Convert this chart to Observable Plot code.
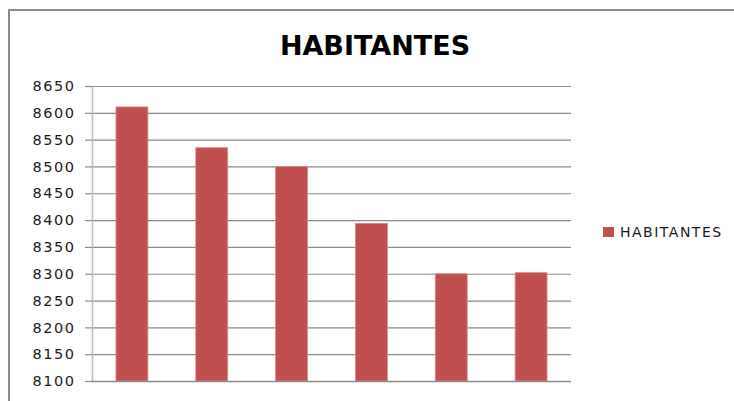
<!DOCTYPE html>
<html>
<head>
<meta charset="utf-8">
<script src="https://cdn.jsdelivr.net/npm/d3@7"></script>
<script src="https://cdn.jsdelivr.net/npm/@observablehq/plot@0.6"></script>
<style>
  html, body { margin: 0; padding: 0; background: #fff; width: 734px; height: 401px; overflow: hidden; }
  #wrap { position: relative; width: 734px; height: 401px; }
  #frame { position: absolute; left: 8px; top: 9px; width: 760px; height: 420px;
           border-top: 2px solid #8a8a8a; border-left: 2px solid #8a8a8a; box-sizing: border-box; }
  #title { position: absolute; left: 0; top: 0; width: 750px; height: 75px; text-align: center;
           font-family: "DejaVu Sans", sans-serif; font-weight: bold; font-size: 27px; line-height: 1;
           color: #000; padding-top: 32px; box-sizing: border-box; }
  #chart { position: absolute; left: 0; top: 75px; }
  #legend { position: absolute; left: 603px; top: 224px; font-family: "DejaVu Sans", sans-serif;
            font-size: 14px; letter-spacing: 1.5px; color: #1a1a1a; display: flex; align-items: center; }
  #legend .sw { width: 11px; height: 10px; background: #C0504D; margin-right: 6px; }
  #chart svg g[aria-label="y-axis tick label"] text { font-size: 14.5px; letter-spacing: 1.5px; }
</style>
</head>
<body>
<div id="wrap">
  <div id="frame"></div>
  <div id="title">HABITANTES</div>
  <div id="chart"></div>
  <div id="legend"><span class="sw"></span><span>HABITANTES</span></div>
</div>
<script>
const categories = ["1", "2", "3", "4", "5", "6"];
const habitantes = [8611, 8535, 8500, 8394, 8300, 8302];
const yTicks = [8100, 8150, 8200, 8250, 8300, 8350, 8400, 8450, 8500, 8550, 8600, 8650];

const data = categories.map((c, i) => ({cat: c, value: habitantes[i]}));

const chart = Plot.plot({
  width: 734,
  height: 326,
  marginTop: 11,
  marginBottom: 20,
  marginLeft: 92,
  marginRight: 163,
  style: {background: "transparent", fontFamily: "DejaVu Sans, sans-serif", fontSize: "14px", color: "#222", overflow: "visible"},
  x: {domain: categories, paddingInner: 0.6, paddingOuter: 0.3, round: false, axis: null},
  y: {domain: [8100, 8650], ticks: yTicks, label: null},
  marks: [
    Plot.ruleY(yTicks, {stroke: "#8a8a8a", strokeWidth: 1.2}),
    Plot.frame({anchor: "left", stroke: "#bdbdbd", strokeWidth: 1.5}),
    Plot.barY(data, {x: "cat", y1: 8100, y2: "value", fill: "#C0504D", stroke: "#D98C8A", strokeWidth: 0.8}),
    Plot.ruleY([8100], {stroke: "#8a8a8a", strokeWidth: 1.5}),
    Plot.axisY(yTicks, {tickSize: 7, tickPadding: 10, tickFormat: d => String(d), label: null,
      fontSize: 14.5, stroke: "#8a8a8a", strokeWidth: 1.2, fill: "#1a1a1a"})
  ]
});
document.getElementById("chart").appendChild(chart);
</script>
</body>
</html>
